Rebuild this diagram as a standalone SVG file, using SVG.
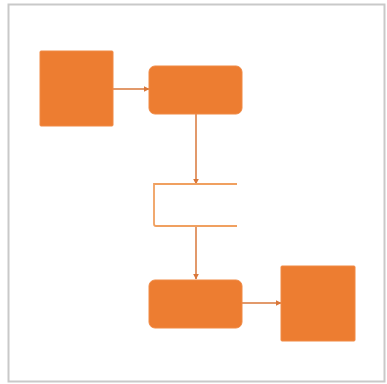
<svg xmlns="http://www.w3.org/2000/svg" width="387" height="384" viewBox="0 0 387 384">
<style>
.node{fill:#ED7D31;stroke:#F08A45;stroke-width:1}
.conn{fill:none;stroke:#D9773A;stroke-width:1.5}
.store{fill:none;stroke:#F0A060;stroke-width:1.8}
</style>
<defs>
<marker id="ah" viewBox="0 0 10 10" refX="9" refY="5" markerWidth="4" markerHeight="4" orient="auto">
<path d="M0,0 L10,5 L0,10 z" fill="#D9773A"/>
</marker>
</defs>
<rect x="0" y="0" width="387" height="384" fill="#ffffff"/>
<rect x="8.5" y="4.5" width="376" height="377" fill="#ffffff" stroke="#C9C9C9" stroke-width="2"/>
<g id="connectors">
<line class="conn" x1="113" y1="89" x2="149" y2="89" marker-end="url(#ah)"/>
<line class="conn" x1="196" y1="114" x2="196" y2="184" marker-end="url(#ah)"/>
<line class="conn" x1="196" y1="226" x2="196" y2="279" marker-end="url(#ah)"/>
<line class="conn" x1="242" y1="303" x2="281" y2="303" marker-end="url(#ah)"/>
</g>
<g id="node1"><rect class="node" x="40" y="51" width="73" height="75" rx="1"/></g>
<g id="node2"><rect class="node" x="149" y="66" width="93" height="48" rx="6"/></g>
<g id="store"><path class="store" d="M237,184 L154,184 L154,224 Q154,226 156,226 L237,226"/></g>
<g id="node3"><rect class="node" x="149" y="280" width="93" height="48" rx="6"/></g>
<g id="node4"><rect class="node" x="281" y="266" width="74" height="75" rx="1"/></g>
</svg>
